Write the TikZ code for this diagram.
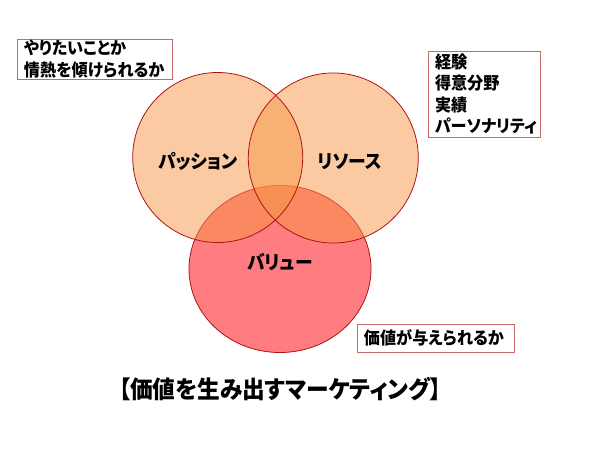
\documentclass[tikz,border=0pt]{standalone}
\usepackage{fontspec}
\setmainfont{Noto Sans CJK JP}[RawFeature=+palt, FakeStretch=0.94]
\definecolor{ringline}{RGB}{170,20,20}
\definecolor{ringpeach}{RGB}{247,150,70}
\definecolor{ringpink}{RGB}{255,124,128}
\definecolor{memoline}{RGB}{195,105,105}

\begin{document}
\begin{tikzpicture}[x=0.04cm, y=-0.04cm,
  memo/.style={draw=memoline, line width=0.7pt, align=left, inner xsep=0.28cm, inner ysep=0pt,
    font=\fontsize{19.5}{24.5}\selectfont\bfseries},
  lab/.style={font=\fontsize{21.5}{23}\selectfont\bfseries}]
  \useasboundingbox (0,0) rectangle (600,450);
  % value circle sits underneath the other two
  \draw[ringline, line width=0.9pt, fill=ringpink] (280,269) ellipse [x radius=3.64cm, y radius=3.34cm];
  \foreach \cx/\cy in {217.7/157.5, 333.3/158}
    \fill[ringpeach, fill opacity=0.5] (\cx,\cy) circle [radius=3.4cm];
  \foreach \cx/\cy in {217.7/157.5, 333.3/158}
    \draw[ringline, line width=0.9pt] (\cx,\cy) circle [radius=3.4cm];

  \node[lab] (passion) at (198,161.5) {パッション};
  \node[lab] (resource) at (350,161.5) {リソース};
  \node[lab] (value) at (280,262) {バリュー};

  % notes
  \node[memo, text width=5.64cm, minimum height=1.6cm] (want) at (94.5,59)
    {やりたいことか\\情熱を傾けられるか};
  \node[memo, text width=3.92cm, minimum height=3.44cm] (skill) at (484,94)
    {経験\\得意分野\\実績\\パーソナリティ};
  \node[memo, text width=5.72cm, minimum height=1.12cm] (give) at (435.5,338)
    {価値が与えられるか};

  \node[font=\fontsize{27.5}{29}\selectfont\bfseries] (title) at (280,389)
    {【価値を生み出すマーケティング】};
\end{tikzpicture}
\end{document}
